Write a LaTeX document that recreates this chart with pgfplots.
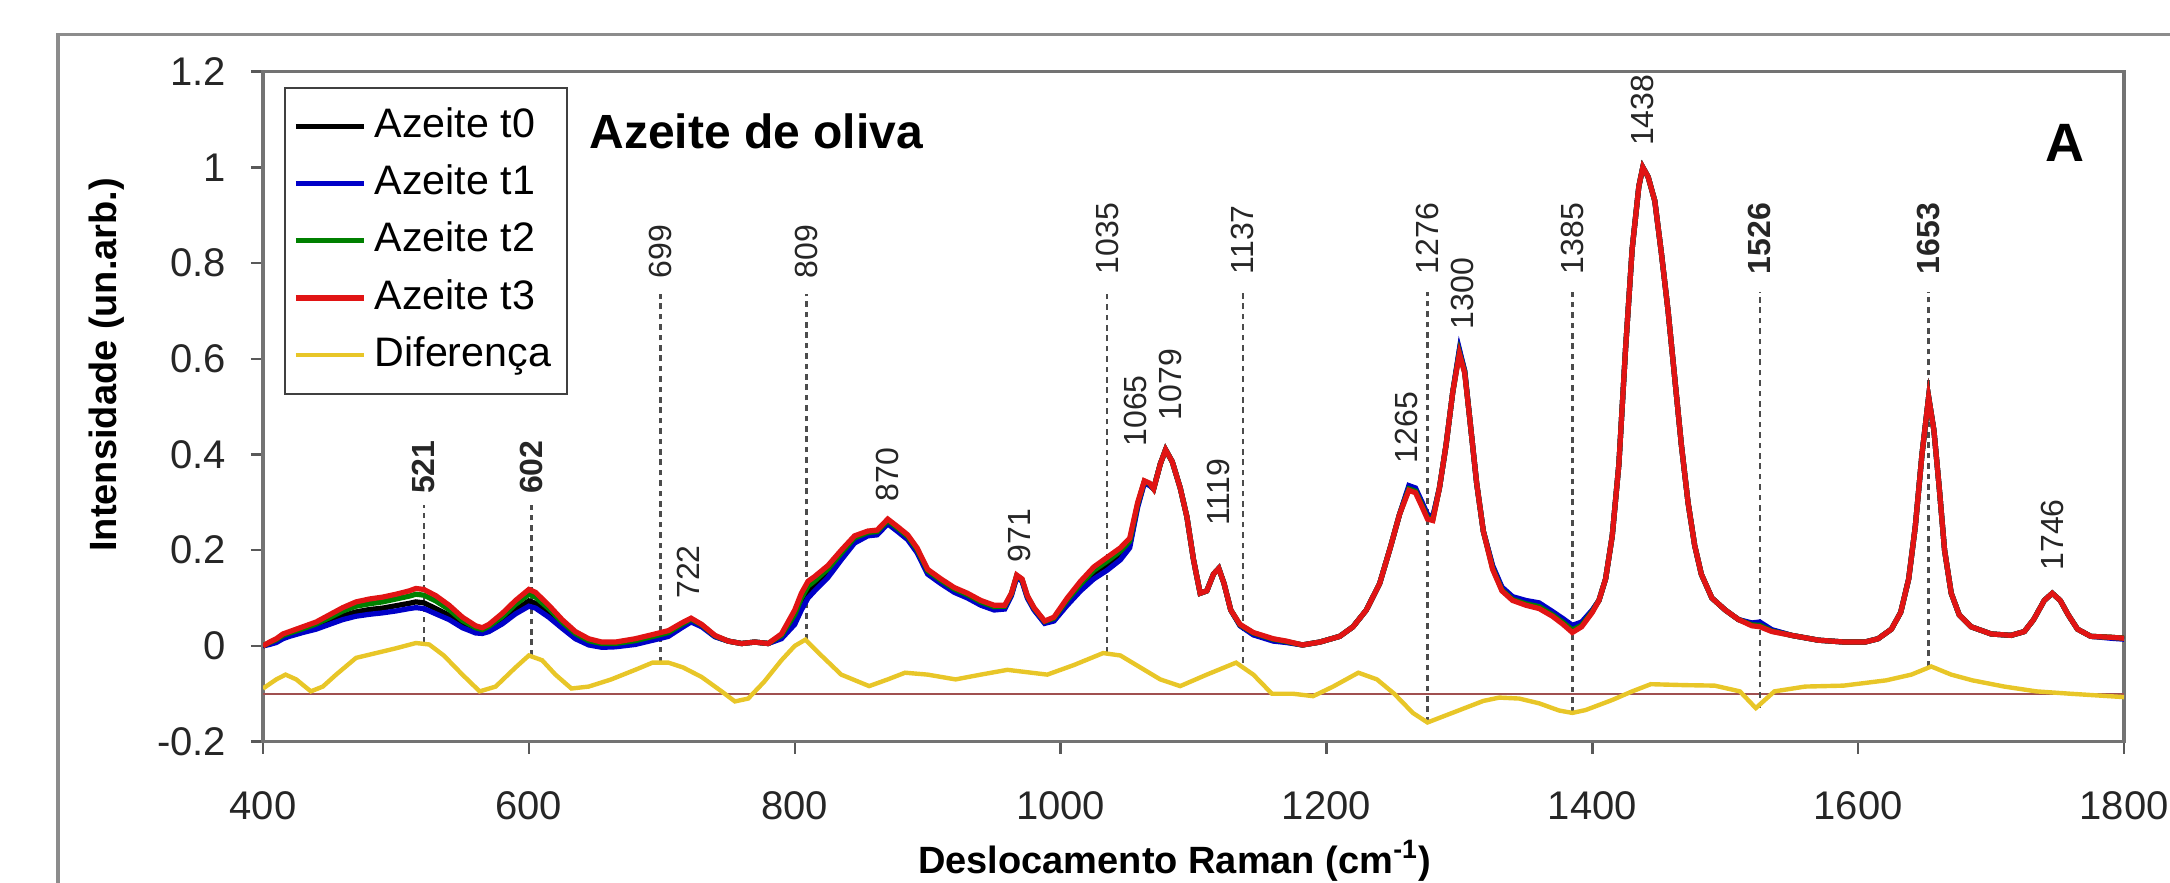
\documentclass[border=0pt]{standalone}
\usepackage{fontspec}
\setmainfont{Liberation Sans}
\usepackage{pgfplots}
\pgfplotsset{compat=1.18}
\usepackage{pgfplotstable}

\definecolor{cT1}{RGB}{0,0,200}
\definecolor{cT2}{RGB}{0,128,0}
\definecolor{cT3}{RGB}{225,20,20}
\definecolor{cDiff}{RGB}{232,198,40}
\definecolor{cBase}{RGB}{160,80,80}

\tikzset{
  dashln/.style={black!70, line width=0.6pt, dash pattern=on 1.4pt off 1.2pt},
  lab/.style={rotate=90, anchor=west, inner sep=0pt, font=\fontsize{8}{9}\selectfont, text=black!85},
}

\pgfplotstableread{
x t0 t1 t2 t3
400 0.000 0.000 0.000 0.000
405 0.005 0.003 0.007 0.008
410 0.009 0.007 0.013 0.015
415 0.018 0.015 0.022 0.025
420 0.023 0.020 0.027 0.030
430 0.032 0.028 0.036 0.040
440 0.040 0.035 0.046 0.050
450 0.051 0.045 0.059 0.065
460 0.063 0.055 0.073 0.080
470 0.071 0.062 0.083 0.092
480 0.076 0.066 0.088 0.098
490 0.079 0.069 0.092 0.102
500 0.084 0.073 0.098 0.108
510 0.089 0.078 0.104 0.115
515 0.092 0.080 0.108 0.120
521 0.090 0.078 0.106 0.118
530 0.078 0.067 0.094 0.105
540 0.064 0.055 0.076 0.085
550 0.045 0.038 0.053 0.060
560 0.032 0.027 0.038 0.042
565 0.030 0.026 0.034 0.038
570 0.035 0.030 0.041 0.045
580 0.053 0.046 0.061 0.068
590 0.075 0.067 0.087 0.095
600 0.094 0.083 0.108 0.118
605 0.089 0.079 0.102 0.112
615 0.068 0.060 0.078 0.085
625 0.042 0.037 0.050 0.055
635 0.020 0.015 0.026 0.030
645 0.006 0.002 0.011 0.015
655 0.000 -0.003 0.005 0.008
665 0.001 -0.002 0.005 0.008
680 0.007 0.003 0.011 0.015
695 0.017 0.013 0.021 0.025
705 0.024 0.020 0.028 0.032
715 0.041 0.038 0.045 0.048
722 0.052 0.050 0.056 0.058
730 0.042 0.040 0.044 0.045
740 0.020 0.019 0.021 0.022
750 0.010 0.010 0.010 0.010
760 0.005 0.005 0.005 0.005
770 0.008 0.008 0.008 0.008
780 0.005 0.005 0.005 0.005
790 0.018 0.015 0.022 0.025
800 0.054 0.045 0.066 0.075
805 0.086 0.075 0.100 0.110
810 0.111 0.100 0.125 0.135
815 0.124 0.115 0.136 0.145
825 0.151 0.143 0.161 0.168
835 0.186 0.180 0.194 0.200
845 0.220 0.215 0.226 0.230
855 0.233 0.230 0.237 0.240
862 0.235 0.232 0.239 0.242
870 0.258 0.255 0.262 0.265
877 0.243 0.240 0.247 0.250
885 0.225 0.222 0.229 0.232
892 0.198 0.195 0.202 0.205
900 0.153 0.150 0.157 0.160
910 0.133 0.130 0.137 0.140
920 0.115 0.112 0.119 0.122
930 0.103 0.100 0.107 0.110
940 0.088 0.085 0.092 0.095
950 0.078 0.075 0.082 0.085
958 0.079 0.077 0.083 0.085
963 0.107 0.105 0.109 0.110
967 0.145 0.143 0.147 0.148
971 0.137 0.135 0.139 0.140
975 0.102 0.100 0.104 0.105
980 0.077 0.075 0.079 0.080
988 0.049 0.047 0.051 0.052
995 0.054 0.052 0.058 0.060
1005 0.090 0.085 0.096 0.100
1015 0.121 0.115 0.129 0.135
1025 0.148 0.140 0.158 0.165
1035 0.166 0.158 0.177 0.185
1045 0.188 0.180 0.198 0.205
1052 0.211 0.205 0.219 0.225
1058 0.293 0.290 0.297 0.300
1063 0.342 0.340 0.344 0.345
1067 0.337 0.335 0.339 0.340
1070 0.328 0.328 0.328 0.328
1075 0.380 0.380 0.380 0.380
1079 0.410 0.410 0.410 0.410
1084 0.385 0.385 0.385 0.385
1090 0.330 0.330 0.330 0.330
1095 0.270 0.270 0.270 0.270
1100 0.180 0.180 0.180 0.180
1105 0.110 0.110 0.110 0.110
1110 0.115 0.115 0.115 0.115
1115 0.150 0.150 0.150 0.150
1119 0.162 0.162 0.162 0.162
1123 0.130 0.130 0.130 0.130
1128 0.075 0.075 0.075 0.075
1135 0.043 0.042 0.044 0.045
1145 0.025 0.023 0.027 0.028
1160 0.012 0.010 0.014 0.015
1170 0.008 0.007 0.009 0.010
1182 0.002 0.002 0.002 0.002
1195 0.008 0.008 0.008 0.008
1210 0.020 0.020 0.020 0.020
1220 0.040 0.040 0.040 0.040
1230 0.075 0.075 0.075 0.075
1240 0.130 0.130 0.130 0.130
1248 0.205 0.205 0.205 0.205
1255 0.275 0.275 0.275 0.275
1262 0.332 0.335 0.328 0.325
1267 0.327 0.330 0.323 0.320
1272 0.297 0.300 0.293 0.290
1276 0.272 0.275 0.268 0.265
1280 0.268 0.270 0.264 0.262
1285 0.330 0.330 0.330 0.330
1290 0.420 0.420 0.420 0.420
1295 0.530 0.530 0.530 0.530
1300 0.617 0.620 0.613 0.610
1304 0.574 0.575 0.572 0.570
1308 0.470 0.470 0.470 0.470
1313 0.340 0.340 0.340 0.340
1318 0.240 0.240 0.240 0.240
1325 0.166 0.168 0.162 0.160
1332 0.121 0.123 0.117 0.115
1340 0.101 0.103 0.097 0.095
1350 0.092 0.095 0.088 0.085
1360 0.086 0.090 0.082 0.078
1370 0.069 0.072 0.065 0.062
1378 0.053 0.057 0.049 0.045
1385 0.039 0.043 0.033 0.028
1392 0.047 0.050 0.043 0.040
1400 0.074 0.075 0.072 0.070
1405 0.095 0.095 0.095 0.095
1410 0.140 0.140 0.140 0.140
1415 0.230 0.230 0.230 0.230
1420 0.380 0.380 0.380 0.380
1425 0.620 0.620 0.620 0.620
1430 0.830 0.830 0.830 0.830
1435 0.960 0.960 0.960 0.960
1438 1.000 1.000 1.000 1.000
1442 0.980 0.980 0.980 0.980
1447 0.930 0.930 0.930 0.930
1452 0.820 0.820 0.820 0.820
1457 0.700 0.700 0.700 0.700
1462 0.560 0.560 0.560 0.560
1467 0.420 0.420 0.420 0.420
1472 0.300 0.300 0.300 0.300
1477 0.210 0.210 0.210 0.210
1482 0.150 0.150 0.150 0.150
1490 0.100 0.100 0.100 0.100
1500 0.075 0.075 0.075 0.075
1510 0.055 0.055 0.055 0.055
1520 0.046 0.048 0.044 0.042
1526 0.047 0.050 0.043 0.040
1535 0.033 0.034 0.031 0.030
1550 0.022 0.022 0.022 0.022
1570 0.012 0.012 0.012 0.012
1590 0.008 0.008 0.008 0.008
1605 0.008 0.008 0.008 0.008
1615 0.015 0.015 0.015 0.015
1625 0.035 0.035 0.035 0.035
1632 0.070 0.070 0.070 0.070
1638 0.140 0.140 0.140 0.140
1643 0.250 0.250 0.250 0.250
1648 0.400 0.400 0.400 0.400
1653 0.520 0.520 0.520 0.520
1657 0.450 0.450 0.450 0.450
1661 0.330 0.330 0.330 0.330
1665 0.200 0.200 0.200 0.200
1670 0.110 0.110 0.110 0.110
1676 0.065 0.065 0.065 0.065
1685 0.040 0.040 0.040 0.040
1700 0.025 0.025 0.025 0.025
1715 0.022 0.022 0.022 0.022
1725 0.030 0.030 0.030 0.030
1732 0.055 0.055 0.055 0.055
1740 0.095 0.095 0.095 0.095
1746 0.110 0.110 0.110 0.110
1752 0.095 0.095 0.095 0.095
1758 0.065 0.065 0.065 0.065
1765 0.035 0.035 0.035 0.035
1775 0.020 0.020 0.020 0.020
1790 0.018 0.016 0.018 0.018
1800 0.016 0.014 0.016 0.016
}\spectra

\pgfplotstableread{
x d
400 -0.089
410 -0.070
417 -0.060
425 -0.070
436 -0.095
445 -0.085
455 -0.060
470 -0.025
485 -0.015
500 -0.005
515 0.006
525 0.003
536 -0.020
550 -0.060
563 -0.095
575 -0.085
590 -0.045
600 -0.020
610 -0.030
620 -0.060
632 -0.089
645 -0.085
662 -0.070
680 -0.050
693 -0.035
705 -0.035
716 -0.045
730 -0.065
745 -0.095
755 -0.116
765 -0.110
777 -0.075
790 -0.030
800 0.000
808 0.013
820 -0.020
835 -0.060
856 -0.084
870 -0.070
883 -0.056
900 -0.060
921 -0.070
940 -0.060
960 -0.050
975 -0.055
990 -0.060
1010 -0.040
1032 -0.015
1045 -0.020
1060 -0.045
1075 -0.070
1090 -0.084
1110 -0.060
1132 -0.035
1145 -0.060
1159 -0.100
1175 -0.100
1190 -0.105
1205 -0.085
1224 -0.056
1238 -0.070
1251 -0.100
1265 -0.140
1276 -0.160
1290 -0.145
1304 -0.130
1318 -0.115
1330 -0.108
1345 -0.110
1360 -0.120
1375 -0.135
1385 -0.140
1395 -0.134
1415 -0.113
1430 -0.095
1444 -0.080
1470 -0.082
1492 -0.083
1511 -0.095
1523 -0.130
1537 -0.095
1560 -0.085
1589 -0.083
1621 -0.072
1640 -0.060
1655 -0.043
1670 -0.060
1686 -0.072
1710 -0.085
1734 -0.095
1760 -0.100
1800 -0.107
}\diffdata

\begin{document}
\begin{tikzpicture}
\useasboundingbox (-65.75pt,-35.25pt) rectangle (476.75pt,185.4pt);
\draw[black!45, line width=0.8pt] (-51.25pt,-60pt) -- (-51.25pt,176.75pt) -- (520pt,176.75pt);
\begin{axis}[
  scale only axis, width=465.25pt, height=167.5pt,
  at={(0pt,0pt)}, anchor=south west,
  xmin=400, xmax=1800, ymin=-0.2, ymax=1.2,
  xtick={400,600,800,1000,1200,1400,1600,1800},
  xticklabels={400,600,800,1000,1200,1400,1600,1800},
  ytick={-0.2,0,0.2,0.4,0.6,0.8,1,1.2},
  yticklabels={-0.2,0,0.2,0.4,0.6,0.8,1,1.2},
  tick align=outside, tick pos=left,
  major tick length=3pt,
  axis line style={black!55, line width=0.8pt},
  tick style={black!65, line width=0.6pt},
  ticklabel style={font=\fontsize{10}{12}\selectfont, text=black!85},
  xticklabel style={yshift=-6pt},
  yticklabel style={xshift=-2.7pt},
  xlabel={Deslocamento Raman (cm\textsuperscript{-1})},
  ylabel={Intensidade (un.arb.)},
  label style={font=\fontsize{9.5}{11}\selectfont\bfseries},
  xlabel style={at={(axis description cs:0.49,-0.178)}, anchor=center},
  ylabel style={at={(axis description cs:-0.084,0.5625)}, anchor=center},
  legend cell align=left,
  legend style={at={(axis description cs:0.0113,0.9776)}, anchor=north west,
    font=\fontsize{10.3}{12}\selectfont, draw=black!75, line width=0.6pt,
    inner xsep=2pt, inner ysep=2.5pt, row sep=0pt,
    nodes={text height=7.3pt, text depth=1.8pt, inner ysep=2.6pt, inner xsep=2pt}},
]
\addplot[cBase, line width=0.6pt, forget plot] coordinates {(400,-0.1) (1800,-0.1)};

\addplot[dashln, forget plot] coordinates {(521,0.006) (521,0.295)};
\addplot[dashln, forget plot] coordinates {(602,-0.020) (602,0.295)};
\addplot[dashln, forget plot] coordinates {(699,-0.035) (699,0.735)};
\addplot[dashln, forget plot] coordinates {(809,0.013) (809,0.735)};
\addplot[dashln, forget plot] coordinates {(1035,-0.015) (1035,0.74)};
\addplot[dashln, forget plot] coordinates {(1137,-0.035) (1137,0.74)};
\addplot[dashln, forget plot] coordinates {(1276,-0.160) (1276,0.74)};
\addplot[dashln, forget plot] coordinates {(1385,-0.140) (1385,0.74)};
\addplot[dashln, forget plot] coordinates {(1526,-0.130) (1526,0.74)};
\addplot[dashln, forget plot] coordinates {(1653,-0.043) (1653,0.74)};

\addplot[black, line width=1.3pt] table[x=x, y=t0]{\spectra};
\addlegendentry{Azeite t0}
\addplot[cT1, line width=1.3pt] table[x=x, y=t1]{\spectra};
\addlegendentry{Azeite t1}
\addplot[cT2, line width=1.3pt] table[x=x, y=t2]{\spectra};
\addlegendentry{Azeite t2}
\addplot[cT3, line width=1.3pt] table[x=x, y=t3]{\spectra};
\addlegendentry{Azeite t3}
\addplot[cDiff, line width=1.1pt] table[x=x, y=d]{\diffdata};
\addlegendentry{Diferença}

\node[lab] at (axis cs:521,0.316) {\textbf{521}};
\node[lab] at (axis cs:602,0.316) {\textbf{602}};
\node[lab] at (axis cs:699,0.766) {699};
\node[lab] at (axis cs:720,0.097) {722};
\node[lab] at (axis cs:809,0.766) {809};
\node[lab] at (axis cs:870,0.300) {870};
\node[lab] at (axis cs:969,0.173) {971};
\node[lab] at (axis cs:1035,0.775) {1035};
\node[lab] at (axis cs:1056,0.415) {1065};
\node[lab] at (axis cs:1083,0.470) {1079};
\node[lab] at (axis cs:1119,0.250) {1119};
\node[lab] at (axis cs:1137,0.775) {1137};
\node[lab] at (axis cs:1260,0.380) {1265};
\node[lab] at (axis cs:1276,0.775) {1276};
\node[lab] at (axis cs:1302,0.660) {1300};
\node[lab] at (axis cs:1385,0.775) {1385};
\node[lab] at (axis cs:1438,1.043) {1438};
\node[lab] at (axis cs:1526,0.775) {\textbf{1526}};
\node[lab] at (axis cs:1653,0.775) {\textbf{1653}};
\node[lab] at (axis cs:1746,0.156) {1746};

\node[anchor=west, inner sep=0pt, font=\fontsize{12}{14}\selectfont\bfseries] at (axis cs:645,1.076) {Azeite de oliva};
\node[inner sep=0pt, font=\fontsize{13.5}{16}\selectfont\bfseries] at (axis cs:1755.6,1.051) {A};
\end{axis}
\end{tikzpicture}
\end{document}
